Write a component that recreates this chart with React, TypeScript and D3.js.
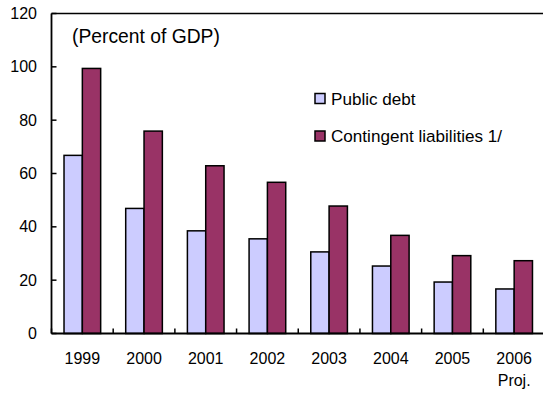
import React from "react";
import * as d3 from "d3";

const categories = ["1999", "2000", "2001", "2002", "2003", "2004", "2005", "2006"];
const publicDebt = [66.8, 46.9, 38.5, 35.5, 30.6, 25.3, 19.3, 16.7];
const contingent = [99.4, 75.9, 62.9, 56.7, 47.8, 36.8, 29.2, 27.3];
const yTicks = [0, 20, 40, 60, 80, 100, 120];
const seriesNames = ["Public debt", "Contingent liabilities 1/"];
const seriesColors = ["#CCCCFF", "#993366"];

const W = 543;
const H = 393;
const left = 51.5;
const right = 545;
const top = 13.5;
const bottom = 333.5;
const font = "'Liberation Sans', Arial, sans-serif";

export default function App() {
  const x = d3.scaleBand<string>().domain(categories).range([left, right]).padding(0);
  const y = d3.scaleLinear().domain([0, 120]).range([bottom, top]);
  const bw = x.bandwidth() * 0.297;

  return (
    <svg width={W} height={H} style={{ position: "absolute", left: 0, top: 0, background: "#fff" }}>
      <rect x={0} y={0} width={W} height={H} fill="#fff" />
      {categories.map((c, i) => {
        const cx = (x(c) as number) + x.bandwidth() / 2;
        return (
          <g key={c}>
            <rect x={cx - bw} y={y(publicDebt[i])} width={bw} height={y(0) - y(publicDebt[i])}
              fill={seriesColors[0]} stroke="#000" strokeWidth={1.5} />
            <rect x={cx} y={y(contingent[i])} width={bw} height={y(0) - y(contingent[i])}
              fill={seriesColors[1]} stroke="#000" strokeWidth={1.5} />
          </g>
        );
      })}
      {/* frame */}
      <line x1={left} x2={right} y1={top} y2={top} stroke="#000" strokeWidth={1.5} />
      <line x1={left} x2={left} y1={top} y2={bottom} stroke="#000" strokeWidth={1.8} />
      <line x1={left} x2={right} y1={bottom} y2={bottom} stroke="#000" strokeWidth={1.8} />
      {/* y ticks */}
      {yTicks.map((t) => (
        <g key={t}>
          <line x1={left} x2={left + 5} y1={y(t)} y2={y(t)} stroke="#000" strokeWidth={1.5} />
          <text x={37} y={y(t)} dy="0.35em" textAnchor="end" fontFamily={font} fontSize={16} fill="#000">
            {t}
          </text>
        </g>
      ))}
      {/* x ticks at boundaries */}
      {categories.map((c) => (
        <line key={"t" + c} x1={x(c) as number} x2={x(c) as number} y1={bottom} y2={bottom - 5}
          stroke="#000" strokeWidth={1.5} />
      ))}
      {categories.map((c) => (
        <text key={"l" + c} x={(x(c) as number) + x.bandwidth() / 2} y={358} dy="0.35em"
          textAnchor="middle" fontFamily={font} fontSize={16} fill="#000">
          {c}
        </text>
      ))}
      <text x={(x("2006") as number) + x.bandwidth() / 2} y={380} dy="0.35em" textAnchor="middle"
        fontFamily={font} fontSize={16} fill="#000">
        Proj.
      </text>
      <text x={72} y={36} dy="0.35em" fontFamily={font} fontSize={19.3} fill="#000">
        (Percent of GDP)
      </text>
      {/* legend */}
      {seriesNames.map((n, i) => (
        <g key={n}>
          <rect x={315} y={93.5 + i * 37.5} width={10} height={10} fill={seriesColors[i]} stroke="#000" strokeWidth={1.5} />
          <text x={331} y={99 + i * 37.5} dy="0.35em" fontFamily={font} fontSize={17.1} fill="#000">
            {n}
          </text>
        </g>
      ))}
    </svg>
  );
}
